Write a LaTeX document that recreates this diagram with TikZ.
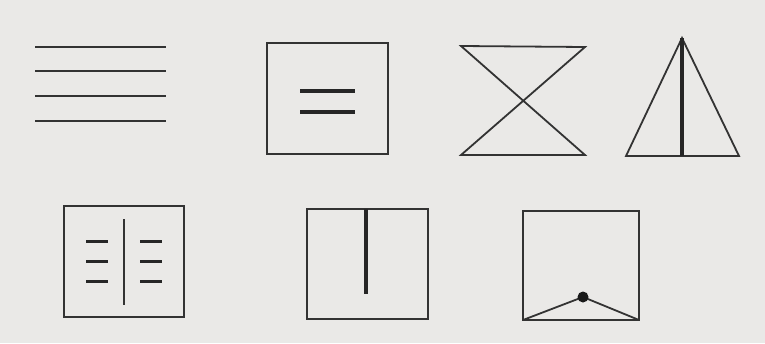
\documentclass[tikz,border=0pt]{standalone}
\begin{document}
\begin{tikzpicture}[x=1pt,y=-1pt,
  thin line/.style={draw=black!80,line width=1.8pt},
  thick line/.style={draw=black!85,line width=3.4pt},
  dash line/.style={draw=black!85,line width=3pt}]
\definecolor{paper}{RGB}{234,233,231}
\fill[paper] (0,0) rectangle (765,343);
\useasboundingbox (0,0) rectangle (765,343);
% four lines
\foreach \y in {47,71,96,121} \draw[thin line] (35,\y) -- (166,\y);
% box with two lines
\draw[thin line] (267,43) rectangle (388,154);
\draw[thick line] (300,91) -- (355,91);
\draw[thick line] (300,112) -- (355,112);
% hourglass
\coordinate (h1) at (461,46);
\coordinate (h2) at (585,47);
\coordinate (h3) at (461,155);
\coordinate (h4) at (585,155);
\draw[thin line,line join=miter] (h1) -- (h2) -- (h3) -- (h4) -- cycle;
% triangle
\coordinate (ta) at (682,38);
\coordinate (tl) at (626,156);
\coordinate (tr) at (739,156);
\draw[thin line] (ta) -- (tl) -- (tr) -- cycle;
\draw[thick line] (ta) -- (682,156);
% box with vertical line and dashes
\draw[thin line] (64,206) rectangle (184,317);
\draw[thin line,line width=2.2pt] (124,219) -- (124,305);
\foreach \y in {241,261,281} {
  \draw[dash line] (86,\y) -- (108,\y);
  \draw[dash line] (140,\y) -- (162,\y);
}
% box with thick vertical line
\draw[thin line] (307,209) rectangle (428,319);
\draw[thick line,line width=4.4pt] (366,209) -- (366,294);
% box with dot
\draw[thin line] (523,211) rectangle (639,320);
\coordinate (dot) at (583,297);
\draw[thin line] (523,320) -- (dot) -- (639,320);
\fill[black!90] (dot) circle (5.5);
\end{tikzpicture}
\end{document}
